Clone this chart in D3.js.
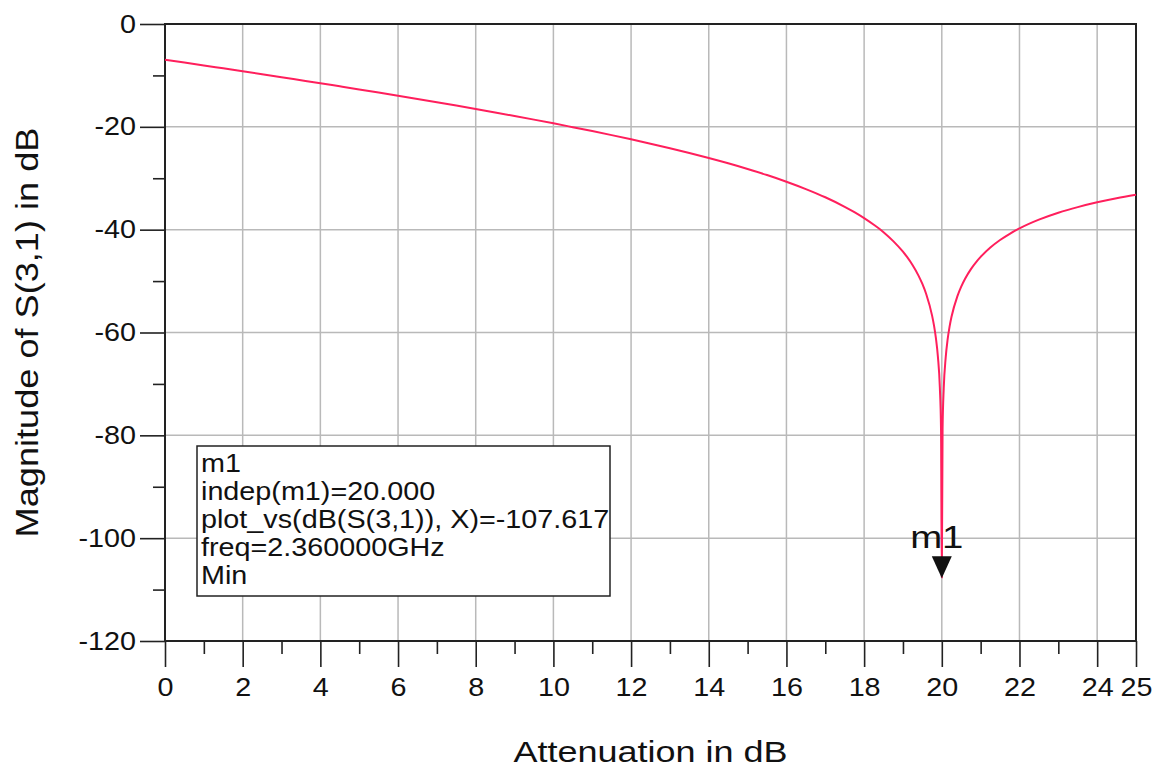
<!DOCTYPE html>
<html>
<head>
<meta charset="utf-8">
<script src="https://cdn.jsdelivr.net/npm/d3@7"></script>
<style>
    body { margin: 0; background: #fff; }
    text { font-family: "Liberation Sans", Arial, sans-serif; fill: #111; }
</style>
</head>
<body>
<svg id="chart" width="1159" height="773"></svg>
<script>
(function () {
    'use strict';

    // --- Data ----------------------------------------------------------

    var atten = [
        0, 0.5, 1, 1.5, 2, 2.5, 3, 3.5, 4, 4.5, 5, 5.5, 6, 6.5, 7, 7.5,
        8, 8.5, 9, 9.5, 10, 10.5, 11, 11.5, 12, 12.5, 13, 13.5, 14, 14.5,
        15, 15.5, 16, 16.5, 17, 17.5, 17.75, 18, 18.25, 18.5, 18.75, 19,
        19.1, 19.25, 19.4, 19.5, 19.6, 19.75, 19.8, 19.85, 19.9, 19.95,
        19.98, 20, 20.02, 20.05, 20.1, 20.15, 20.2, 20.25, 20.4, 20.5,
        20.6, 20.75, 20.9, 21, 21.25, 21.5, 21.75, 22, 22.5, 23, 23.5,
        24, 24.5, 25
    ];

    var s31dB = [
        -6.94, -7.49, -8.05, -8.62, -9.19, -9.76, -10.34, -10.93, -11.52,
        -12.12, -12.72, -13.33, -13.95, -14.58, -15.22, -15.87, -16.53,
        -17.21, -17.90, -18.60, -19.32, -20.07, -20.83, -21.61, -22.43,
        -23.28, -24.16, -25.09, -26.06, -27.09, -28.20, -29.38, -30.68,
        -32.11, -33.70, -35.55, -36.59, -37.75, -39.05, -40.49, -42.23,
        -44.29, -45.26, -46.92, -48.93, -50.56, -52.56, -56.71, -58.67,
        -61.2, -64.73, -70.75, -78.8, -107.617, -78.8, -70.84, -64.88,
        -61.34, -58.86, -56.95, -52.96, -51.07, -49.54, -47.67, -46.16,
        -45.30, -43.48, -42.01, -40.80, -39.76, -38.06, -36.71, -35.61,
        -34.68, -33.89, -33.20
    ];

    var xMajor = [0, 2, 4, 6, 8, 10, 12, 14, 16, 18, 20, 22, 24, 25];
    var xMinor = [1, 3, 5, 7, 9, 11, 13, 15, 17, 19, 21, 23];
    var xGrid = [2, 4, 6, 8, 10, 12, 14, 16, 18, 20, 22, 24];
    var yMajor = [0, -20, -40, -60, -80, -100, -120];
    var yMinor = [-10, -30, -50, -70, -90, -110];
    var yGrid = [-20, -40, -60, -80, -100];

    var marker = { name: 'm1', x: 20, y: -107.617 };
    var markerLines = [
        'm1',
        'indep(m1)=20.000',
        'plot_vs(dB(S(3,1)), X)=-107.617',
        'freq=2.360000GHz',
        'Min'
    ];

    // --- Layout --------------------------------------------------------

    var left = 165, right = 1136, top = 24, bottom = 641;
    var TXT_STRETCH = 1.15;     // source picture text is a bit wide

    var svg = d3.select('#chart');

    var x = d3.scaleLinear().domain([0, 25]).range([left, right]);
    var y = d3.scaleLinear().domain([-120, 0]).range([bottom, top]);

    // --- Grid ----------------------------------------------------------

    var grid = svg.append('g').attr('class', 'grid')
        .attr('stroke', '#b9b9b9').attr('stroke-width', 1.5);

    grid.selectAll('line.vx').data(xGrid).enter().append('line')
        .attr('x1', x).attr('x2', x)
        .attr('y1', top).attr('y2', bottom);

    grid.selectAll('line.hy').data(yGrid).enter().append('line')
        .attr('x1', left).attr('x2', right)
        .attr('y1', y).attr('y2', y);

    // --- Axes ----------------------------------------------------------

    function styleAxis(g) {
        g.select('.domain').remove();
        g.selectAll('.tick line').attr('stroke', '#222').attr('stroke-width', 1.6);
    }

    var xAx = svg.append('g')
        .attr('transform', 'translate(0,' + bottom + ')')
        .call(d3.axisBottom(x).tickValues(xMajor).tickSize(26).tickPadding(11)
            .tickFormat(function (d) { return String(d); }))
        .call(styleAxis);
    xAx.selectAll('text')
        .attr('font-size', 25)
        .attr('fill', '#111')
        .attr('transform', 'scale(' + TXT_STRETCH + ',1)');

    svg.append('g')
        .attr('transform', 'translate(0,' + bottom + ')')
        .call(d3.axisBottom(x).tickValues(xMinor).tickSize(13).tickFormat(''))
        .call(styleAxis);

    var yAx = svg.append('g')
        .attr('transform', 'translate(' + left + ',0)')
        .call(d3.axisLeft(y).tickValues(yMajor).tickSize(25)
            .tickFormat(function (d) { return String(d); }))
        .call(styleAxis);
    yAx.selectAll('text')
        .attr('font-size', 25)
        .attr('fill', '#111')
        .attr('x', 0)
        .attr('transform', 'translate(-29,0) scale(' + TXT_STRETCH + ',1)');

    svg.append('g')
        .attr('transform', 'translate(' + left + ',0)')
        .call(d3.axisLeft(y).tickValues(yMinor).tickSize(12).tickFormat(''))
        .call(styleAxis);

    // plot frame
    svg.append('rect')
        .attr('x', left).attr('y', top)
        .attr('width', right - left).attr('height', bottom - top)
        .attr('fill', 'none').attr('stroke', '#222').attr('stroke-width', 2);

    // --- Axis titles ---------------------------------------------------

    svg.append('text')
        .attr('transform', 'translate(' + ((left + right) / 2) + ',762) scale(1.2,1)')
        .attr('text-anchor', 'middle')
        .attr('font-size', 30)
        .text('Attenuation in dB');

    svg.append('text')
        .attr('transform', 'translate(38,' + ((top + bottom) / 2) + ') rotate(-90) scale(1.13,1)')
        .attr('text-anchor', 'middle')
        .attr('font-size', 32)
        .text('Magnitude of S(3,1) in dB');

    // --- Trace ---------------------------------------------------------

    var line = d3.line()
        .curve(d3.curveMonotoneX)
        .x(function (d, i) { return x(atten[i]); })
        .y(function (d) { return y(d); });

    svg.append('path')
        .datum(s31dB)
        .attr('d', line)
        .attr('fill', 'none')
        .attr('stroke', '#ff1f5c')
        .attr('stroke-width', 2);

    // --- Marker --------------------------------------------------------

    var mx = x(marker.x), my = y(marker.y);

    svg.append('path')
        .attr('d', 'M-10,-21L10,-21L0,1Z')
        .attr('transform', 'translate(' + mx + ',' + my + ')')
        .attr('fill', '#111');

    svg.append('text')
        .attr('transform', 'translate(' + (mx - 5) + ',' + (my - 29) + ') scale(1.2,1)')
        .attr('text-anchor', 'middle')
        .attr('font-size', 32)
        .text(marker.name);

    // readout box
    var box = svg.append('g').attr('class', 'readout');
    box.append('rect')
        .attr('x', 197).attr('y', 446)
        .attr('width', 413).attr('height', 150)
        .attr('fill', '#fff').attr('stroke', '#222').attr('stroke-width', 1.5);

    box.selectAll('text').data(markerLines).enter().append('text')
        .attr('transform', function (d, i) {
            return 'translate(201,' + (472 + i * 28) + ') scale(' + TXT_STRETCH + ',1)';
        })
        .attr('font-size', 25)
        .text(function (d) { return d; });
}());
</script>
</body>
</html>
